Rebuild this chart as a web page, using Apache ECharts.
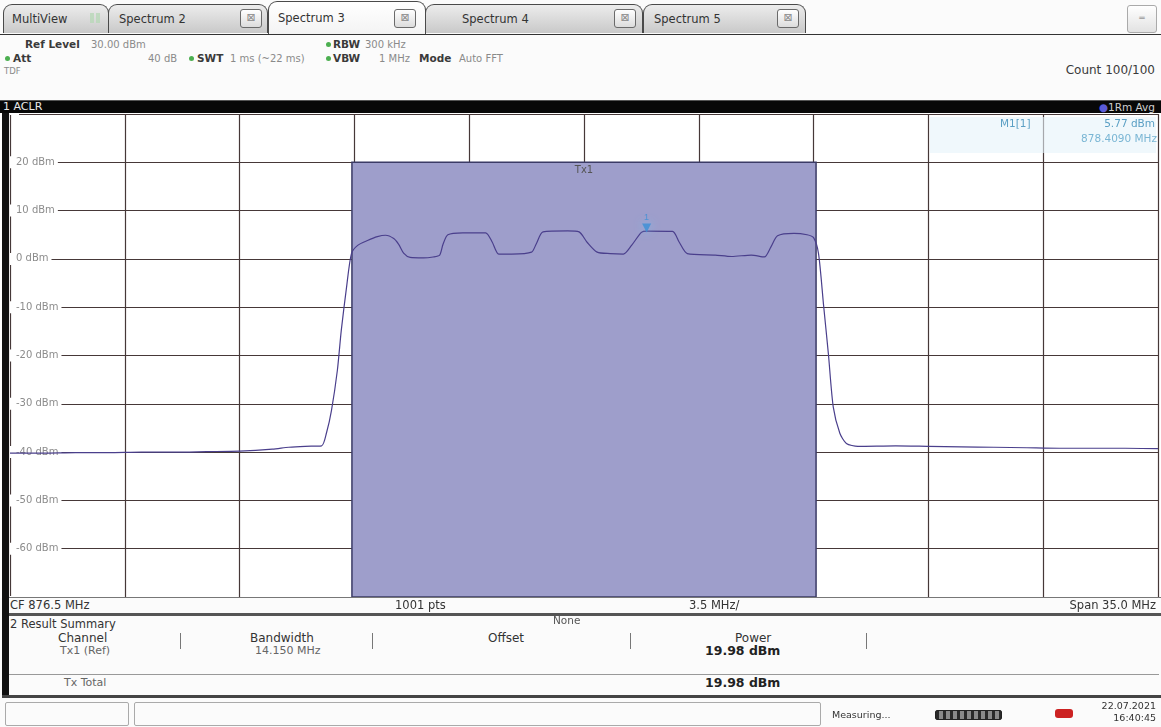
<!DOCTYPE html>
<html>
<head>
<meta charset="utf-8">
<script src="https://cdn.jsdelivr.net/npm/echarts@6/dist/echarts.min.js"></script>
<style>
  html,body{margin:0;padding:0;width:1161px;height:727px;overflow:hidden;background:#fbfbfb;font-family:"DejaVu Sans",Verdana,sans-serif;}
  .abs{position:absolute;white-space:nowrap;}
  .tab{position:absolute;top:4px;height:29px;border:1px solid #4a4a4a;border-bottom:none;border-radius:9px 9px 0 0;background:linear-gradient(#ececec,#c9c9c9);box-sizing:border-box;}
  .tab.active{top:1px;height:34px;background:linear-gradient(#ffffff,#f3f3f3);}
  .tab span{position:absolute;top:7px;font-size:11.5px;color:#333;}
  .cls{position:absolute;top:4px;width:20px;height:17px;border:1px solid #6a6a6a;border-radius:3px;background:linear-gradient(#ffffff,#dcdcdc);font-size:11px;line-height:16px;text-align:center;color:#888;}
  .lab{font-weight:bold;color:#3a3a3a;font-size:10.5px;}
  .val{color:#8a8a8a;font-size:10px;}
  .dot{position:absolute;width:5px;height:5px;border-radius:50%;background:#4caf50;}
  .sep{position:absolute;width:1px;height:16px;background:#777;}
  .hd{font-size:11.5px;color:#333;}
  .rw{font-size:11px;color:#666;}
</style>
</head>
<body>
<div id="page">
  <!-- tab row -->
  <div class="tab" style="left:3px;width:106px;"><span style="left:8px;">MultiView</span>
    <div class="abs" style="left:86px;top:8px;width:10px;height:10px;background:repeating-linear-gradient(90deg,#b8d8b8 0 4px,transparent 4px 6px);opacity:.8"></div></div>
  <div class="tab" style="left:108px;width:160px;"><span style="left:10px;">Spectrum 2</span><div class="cls" style="left:131px;">⊠</div></div>
  <div class="tab" style="left:425px;width:218px;"><span style="left:36px;">Spectrum 4</span><div class="cls" style="left:188px;">⊠</div></div>
  <div class="tab" style="left:643px;width:163px;"><span style="left:10px;">Spectrum 5</span><div class="cls" style="left:133px;">⊠</div></div>
  <div class="tab active" style="left:268px;width:158px;"><span style="left:9px;top:9px;">Spectrum 3</span><div class="cls" style="left:125px;top:7px;">⊠</div></div>
  <div class="abs" style="left:0;top:34px;width:1161px;height:1px;background:#333;"></div>
  <div class="abs" style="left:1127px;top:5px;width:28px;height:26px;border:1px solid #aaa;border-radius:3px;background:linear-gradient(#fff,#e2e2e2);font-size:9px;color:#999;text-align:center;line-height:24px;">═</div>

  <!-- header -->
  <div class="abs lab" style="left:25px;top:38px;">Ref Level</div><div class="abs val" style="left:91px;top:39px;">30.00 dBm</div>
  <div class="dot" style="left:326px;top:42px;"></div><div class="abs lab" style="left:333px;top:38px;">RBW</div><div class="abs val" style="left:365px;top:39px;">300 kHz</div>
  <div class="dot" style="left:5px;top:56px;"></div><div class="abs lab" style="left:13px;top:52px;">Att</div>
  <div class="abs val" style="left:148px;top:53px;">40 dB</div>
  <div class="dot" style="left:189px;top:56px;"></div><div class="abs lab" style="left:197px;top:52px;">SWT</div><div class="abs val" style="left:230px;top:53px;">1 ms (~22 ms)</div>
  <div class="dot" style="left:326px;top:56px;"></div><div class="abs lab" style="left:333px;top:52px;">VBW</div><div class="abs val" style="left:379px;top:53px;">1 MHz</div>
  <div class="abs lab" style="left:419px;top:52px;">Mode</div><div class="abs val" style="left:459px;top:53px;">Auto FFT</div>
  <div class="abs val" style="left:4px;top:66px;font-size:8.5px;">TDF</div>
  <div class="abs" style="right:6px;top:63px;font-size:12px;color:#3a3a3a;">Count 100/100</div>

  <!-- ACLR bar -->
  <div class="abs" style="left:0;top:100px;width:1161px;height:14px;background:#080808;border-top:1px solid #555;"></div>
  <div class="abs" style="left:3px;top:100px;font-size:11px;color:#e8e8e8;">1 ACLR</div>
  <div class="abs" style="right:6px;top:101px;font-size:10.5px;color:#cfcfcf;"><span style="color:#5b5bd8">●</span>1Rm Avg</div>

  <!-- chart -->
  <div id="chart" class="abs" style="left:0;top:113px;width:1161px;height:485px;"></div>
  <div class="abs" style="left:2px;top:113px;width:7px;height:585px;background:#111;"></div>

  <!-- bottom info row -->
  <div class="abs" style="left:9px;top:597px;width:1152px;height:1px;background:#777;"></div>
  <div class="abs hd" style="left:10px;top:598px;">CF 876.5 MHz</div>
  <div class="abs hd" style="left:395px;top:598px;">1001 pts</div>
  <div class="abs hd" style="left:689px;top:598px;">3.5 MHz/</div>
  <div class="abs hd" style="right:5px;top:598px;">Span 35.0 MHz</div>
  <div class="abs" style="left:9px;top:613px;width:1152px;height:3px;background:#555;"></div>

  <!-- result summary -->
  <div class="abs hd" style="left:10px;top:617px;">2 Result Summary</div>
  <div class="abs" style="left:553px;top:614px;font-size:10.5px;color:#555;">None</div>
  <div class="abs hd" style="left:58px;top:631px;font-size:12px;">Channel</div>
  <div class="sep" style="left:180px;top:633px;"></div>
  <div class="abs hd" style="left:250px;top:631px;font-size:12px;">Bandwidth</div>
  <div class="sep" style="left:372px;top:633px;"></div>
  <div class="abs hd" style="left:488px;top:631px;font-size:12px;">Offset</div>
  <div class="sep" style="left:630px;top:633px;"></div>
  <div class="abs hd" style="left:735px;top:631px;font-size:12px;">Power</div>
  <div class="sep" style="left:866px;top:633px;"></div>
  <div class="abs rw" style="left:60px;top:644px;">Tx1 (Ref)</div>
  <div class="abs rw" style="left:255px;top:644px;">14.150 MHz</div>
  <div class="abs" style="left:705px;top:643px;font-size:12.5px;font-weight:bold;color:#222;">19.98 dBm</div>
  <div class="abs" style="left:9px;top:674px;width:1150px;height:1px;background:#999;"></div>
  <div class="abs rw" style="left:64px;top:676px;">Tx Total</div>
  <div class="abs" style="left:705px;top:675px;font-size:12.5px;font-weight:bold;color:#222;">19.98 dBm</div>
  <div class="abs" style="left:2px;top:695px;width:1159px;height:3px;background:#444;"></div>

  <!-- status bar -->
  <div class="abs" style="left:5px;top:702px;width:122px;height:22px;border:1px solid #aaa;border-radius:2px;"></div>
  <div class="abs" style="left:134px;top:702px;width:685px;height:22px;border:1px solid #aaa;border-radius:2px;"></div>
  <div class="abs" style="left:832px;top:709px;font-size:9.5px;color:#333;">Measuring...</div>
  <div class="abs" style="left:935px;top:710px;width:65px;height:8px;border:1px solid #222;border-radius:2px;background:repeating-linear-gradient(90deg,#2a2a2a 0 3px,#8a8a8a 3px 7px);"></div>
  <div class="abs" style="left:1055px;top:709px;width:18px;height:9px;background:#cc2222;border-radius:3px;"></div>
  <div class="abs" style="right:5px;top:700px;font-size:9.5px;color:#333;text-align:right;line-height:12px;">22.07.2021<br>16:40:45</div>
</div>

<script>
// ---- data ----
const CF_MHZ = 876.5;
const SPAN_MHZ = 35.0;
const DIV_MHZ = 3.5;
const CHANNEL_BW_MHZ = 14.15;
const REF_LEVEL_DBM = 30;
const DB_PER_DIV = 10;

const yTickLabels = ['20 dBm','10 dBm','0 dBm','-10 dBm','-20 dBm','-30 dBm','-40 dBm','-50 dBm','-60 dBm'];

const traceFreqMHz = [
  859.0, 860.0, 861.0, 862.0, 863.0, 864.0, 865.0, 866.0, 867.0, 867.5, 868.0, 868.5,
  868.65, 868.8, 868.98, 869.1, 869.26, 869.41, 869.6, 869.9, 870.2, 870.45, 870.7, 870.85,
  871.0, 871.2, 871.6, 871.9, 872.1, 872.2, 872.35, 872.8, 873.5, 873.7, 873.9, 874.3,
  874.9, 875.05, 875.25, 876.0, 876.35, 876.6, 876.9, 877.3, 877.7, 877.95, 878.25, 878.41,
  879.2, 879.4, 879.65, 880.5, 881.0, 881.6, 882.0, 882.2, 882.4, 882.9, 883.3, 883.5,
  883.65, 883.8, 883.95, 884.1, 884.3, 884.5, 884.85, 886.0, 887.0, 888.0, 889.0, 890.0,
  891.0, 892.0, 893.0, 894.0
];
const traceLevelDbm = [
  -40.2, -40.2, -40.1, -40.1, -40.0, -40.0, -39.9, -39.8, -39.4, -39.0, -38.8, -38.7,
  -36.0, -31.4, -23.1, -14.8, -5.9, 1.1, 2.8, 3.8, 4.6, 4.9, 4.2, 3.0,
  1.2, 0.3, 0.2, 0.4, 0.8, 3.0, 5.0, 5.4, 5.4, 3.5, 1.0, 1.0,
  1.4, 3.2, 5.6, 5.8, 5.6, 3.4, 1.4, 1.1, 1.0, 2.8, 5.5, 5.77,
  5.7, 3.5, 1.1, 0.8, 0.5, 0.8, 0.4, 2.5, 4.8, 5.3, 5.0, 4.4,
  1.1, -9.3, -19.6, -30.7, -36.1, -38.2, -38.8, -38.7, -38.8, -38.9, -39.0, -39.1,
  -39.2, -39.2, -39.2, -39.3
];

const markerFreqMHz = 878.409;
const markerLevelDbm = 5.77;
const markerName = 'M1[1]';
const markerLevelText = '5.77 dBm';
const markerFreqText = '878.4090 MHz';
const channelName = 'Tx1';

// ---- chart ----
const half = SPAN_MHZ / 2;
const traceData = traceFreqMHz.map((f, i) => [+(f - CF_MHZ).toFixed(4), traceLevelDbm[i]]);
const yMin = REF_LEVEL_DBM - 10 * DB_PER_DIV;

const chart = echarts.init(document.getElementById('chart'), null, {renderer: 'canvas'});
chart.setOption({
  animation: false,
  backgroundColor: '#ffffff',
  grid: {left: 10, right: 3, top: 0, bottom: 0},
  xAxis: {
    type: 'value', min: -half, max: half, interval: DIV_MHZ,
    axisLine: {show: false}, axisTick: {show: false}, axisLabel: {show: false},
    splitLine: {show: true, lineStyle: {color: '#463838', width: 1.2}}
  },
  yAxis: {
    type: 'value', min: yMin, max: REF_LEVEL_DBM, interval: DB_PER_DIV,
    axisLine: {show: false}, axisTick: {show: false},
    splitLine: {show: true, lineStyle: {color: '#463838', width: 1.2}},
    axisLabel: {
      inside: true, margin: 0, color: '#8c8c8c', fontSize: 10,
      fontFamily: 'DejaVu Sans',
      backgroundColor: '#ffffff', padding: [1, 3, 1, 6],
      formatter: function (v) {
        const idx = Math.round((REF_LEVEL_DBM - DB_PER_DIV - v) / DB_PER_DIV);
        return (idx >= 0 && idx < yTickLabels.length) ? yTickLabels[idx] : '';
      }
    }
  },
  series: [
    {
      type: 'line', data: [], z: 2, silent: true,
      markArea: {
        silent: true,
        itemStyle: {color: '#9e9ecb', opacity: 1, borderColor: '#3b3b66', borderWidth: 1.5},
        label: {show: true, position: 'insideTop', distance: 4, color: '#555', fontSize: 10, fontFamily: 'DejaVu Sans', formatter: channelName},
        data: [[{xAxis: -CHANNEL_BW_MHZ / 2, yAxis: yMin}, {xAxis: CHANNEL_BW_MHZ / 2, yAxis: REF_LEVEL_DBM - DB_PER_DIV}]]
      }
    },
    {
      type: 'line', data: traceData, z: 5, symbol: 'none', smooth: 0.25,
      lineStyle: {color: '#4a3f8c', width: 1.2}
    },
    {
      type: 'scatter', z: 6, data: [[markerFreqMHz - CF_MHZ, markerLevelDbm]],
      symbol: 'triangle', symbolRotate: 180, symbolSize: 9, symbolOffset: [0, -3],
      itemStyle: {color: '#3b8fd6', shadowBlur: 10, shadowColor: '#7cc6f2'},
      label: {show: true, position: 'top', distance: 2, formatter: '1', color: '#3b8fd6', fontSize: 9}
    }
  ],
  graphic: [
    {type: 'rect', left: 930, top: 4, shape: {width: 226, height: 36}, style: {fill: 'rgba(230,244,250,0.6)'}, z: 10},
    {type: 'text', left: 1000, top: 6, z: 11, style: {text: markerName, fill: '#5a9fc4', font: '10.5px "DejaVu Sans"'}},
    {type: 'text', right: 6, top: 6, z: 11, style: {text: markerLevelText, fill: '#5a9fc4', font: '10.5px "DejaVu Sans"'}},
    {type: 'text', right: 4, top: 21, z: 11, style: {text: markerFreqText, fill: '#7ab6d4', font: '10.5px "DejaVu Sans"'}}
  ]
});
</script>
</body>
</html>
